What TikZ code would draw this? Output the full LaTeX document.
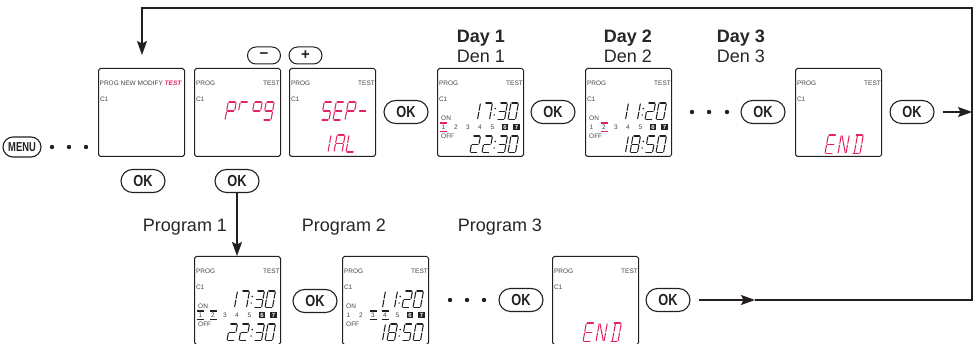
\documentclass[tikz,border=0pt]{standalone}
\usepackage{fontspec}
\setmainfont{Liberation Sans}
\usepackage{graphicx}
\usetikzlibrary{arrows.meta,shapes.misc}
\definecolor{ink}{HTML}{231F20}
\definecolor{lcdred}{HTML}{E2245C}
\definecolor{txt}{HTML}{262626}
\definecolor{stxt}{HTML}{444444}
\tikzset{
  screen/.style={draw=ink, line width=1pt, rounded corners=1.8pt, minimum width=86pt, minimum height=88pt, inner sep=0pt, anchor=north west},
  okbtn/.style={draw=ink, line width=1.1pt, rounded rectangle, minimum width=44pt, minimum height=23pt, inner sep=0pt, font=\fontsize{16}{16}\selectfont\bfseries, text=ink},
  pmbtn/.style={draw=ink, line width=1pt, rounded rectangle, minimum width=33pt, minimum height=17pt, inner sep=0pt, font=\fontsize{15}{15}\selectfont\bfseries, text=ink},
  small/.style={font=\fontsize{6.5}{7}\selectfont, inner sep=0pt, text=stxt},
  big/.style={font=\fontsize{18}{20}\selectfont, inner sep=0pt, text=txt, anchor=base},
  conn/.style={draw=ink, line width=1.7pt},
  arr/.style={draw=ink, line width=1.7pt, -{Stealth[length=14pt,width=10pt,inset=2.5pt]}},
  dot/.style={fill=ink},
}
% seven segment parts
\def\hh{17}\def\ww{7.5}
\newcommand\SgA{\draw[segline] (0.9,0) -- (\ww-0.9,0);}
\newcommand\SgB{\draw[segline] (\ww,0.9) -- (\ww,\hh/2-0.9);}
\newcommand\SgC{\draw[segline] (\ww,\hh/2+0.9) -- (\ww,\hh-0.9);}
\newcommand\SgD{\draw[segline] (0.9,\hh) -- (\ww-0.9,\hh);}
\newcommand\SgE{\draw[segline] (0,\hh/2+0.9) -- (0,\hh-0.9);}
\newcommand\SgF{\draw[segline] (0,0.9) -- (0,\hh/2-0.9);}
\newcommand\SgG{\draw[segline] (0.9,\hh/2) -- (\ww-0.9,\hh/2);}
\newcommand\SgX{\draw[segline] (0.9,0.9) -- (\ww-0.9,\hh-0.9);}
\newcommand\SgY{\draw[segline] (2.2,0.9) -- (2.2,\hh/2-0.9); \draw[segline] (2.2,\hh/2+0.9) -- (2.2,\hh-0.9);}
\newcommand\lcZero{\SgA\SgB\SgC\SgD\SgE\SgF}
\newcommand\lcOne{\SgB\SgC}
\newcommand\lcTwo{\SgA\SgB\SgG\SgE\SgD}
\newcommand\lcThree{\SgA\SgB\SgG\SgC\SgD}
\newcommand\lcFive{\SgA\SgF\SgG\SgC\SgD}
\newcommand\lcSeven{\SgA\SgB\SgC}
\newcommand\lcEight{\SgA\SgB\SgC\SgD\SgE\SgF\SgG}
\newcommand\lcP{\SgA\SgB\SgF\SgG\SgE}
\newcommand\lcR{\SgA\SgF}
\newcommand\lcO{\SgA\SgB\SgF\SgG}
\newcommand\lcG{\SgA\SgB\SgC\SgD\SgF\SgG}
\newcommand\lcS{\SgA\SgF\SgG\SgC\SgD}
\newcommand\lcE{\SgA\SgF\SgG\SgE\SgD}
\newcommand\lcDash{\SgG}
\newcommand\lcI{\SgB\SgC}
\newcommand\lcA{\SgA\SgB\SgC\SgE\SgF\SgG}
\newcommand\lcL{\SgF\SgE\SgD}
\newcommand\lcN{\SgF\SgE\SgB\SgC\SgX}
\newcommand\lcD{\SgA\SgB\SgC\SgD\SgY}
% #1 colour, #2 x, #3 y (top), #4 segments
\newcommand\lcdch[4][ink]{%
  \begin{scope}[shift={(#2+0.18*\hh,#3)},xslant=0.18,segline/.style={draw=#1,line width=1.05pt,line cap=round}]
  #4
  \end{scope}}
\newcommand\lcdcolon[2]{%
  \fill[ink] (#1+2.0,#2+5.5) circle (0.85);
  \fill[ink] (#1+0.8,#2+12) circle (0.85);}
% time display: #1 x0, #2 y0 (screen top-left), #3 row offset, #4..#7 digits
\newcommand\timedisp[7]{%
  \lcdch{#1+33}{#2+#3}{#4}\lcdch{#1+45}{#2+#3}{#5}%
  \lcdcolon{#1+56.3}{#2+#3}%
  \lcdch{#1+60}{#2+#3}{#6}\lcdch{#1+71}{#2+#3}{#7}}
% screen with header
\newcommand\scr[3]{%
  \node[screen] (#1) at (#2,#3) {};
  \node[small,anchor=west] (#1p) at ([shift={(1.8,15)}]#1.north west) {PROG};
  \node[small,anchor=east] (#1t) at ([shift={(-1,15)}]#1.north east) {TEST};
  \node[small,anchor=west] (#1c) at ([shift={(1.8,31)}]#1.north west) {C1};}
% day row: #1 name, #2 x0, #3 y0, #4 colour, #5 bar centres
\newcommand\dayrow[5]{%
  \node[small,anchor=west] (#1on) at (#2+4,#3+50) {ON};
  \node[small,anchor=west] (#1off) at (#2+4,#3+68) {OFF};
  \foreach \n/\cx in {1/6.5,2/19,3/31,4/43,5/55.5}
    \node[small] (#1d\n) at (#2+\cx,#3+59) {\n};
  \foreach \n/\cx in {6/68,7/79.5}
    \node[fill=ink,text=white,font=\fontsize{6}{6}\selectfont\bfseries,minimum width=6.5pt,minimum height=6pt,inner sep=0pt] (#1d\n) at (#2+\cx,#3+59) {\n};
  \foreach \cx in {#5}{
    \draw[#4,line width=1.3pt] (#2+\cx-3.5,#3+55) -- (#2+\cx+3.5,#3+55);
    \draw[#4,line width=1.3pt] (#2+\cx-3.5,#3+63.2) -- (#2+\cx+3.5,#3+63.2);}}
\begin{document}
\begin{tikzpicture}[x=1pt,y=-1pt]
\useasboundingbox (0,0) rectangle (979,344);
% ---------- MENU and dots
\node[draw=ink,line width=1.1pt,rounded rectangle,minimum width=38pt,minimum height=20pt,inner sep=0pt,text=ink,font=\fontsize{13}{13}\selectfont\bfseries] (menu) at (22,147) {\scalebox{0.72}[1]{MENU}};
\foreach \x in {52,69,86} \fill[dot] (\x,147) circle (2.2);
% ---------- screen 1
\node[screen] (s1) at (98,68) {};
\node[small,anchor=west] (s1p) at ([shift={(1.5,15)}]s1.north west) {PROG NEW MODIFY \textcolor{lcdred}{\bfseries\itshape TEST}};
\node[small,anchor=west] (s1c) at ([shift={(1.8,31)}]s1.north west) {C1};
% ---------- screen 2 : pr og
\scr{s2}{194}{68}
\def\hh{18}\def\ww{8}
\lcdch[lcdred]{194+31}{68+34}{\lcP}
\lcdch[lcdred]{194+43}{68+34}{\lcR}
\lcdch[lcdred]{194+57}{68+34}{\lcO}
\lcdch[lcdred]{194+69}{68+34}{\lcG}
% ---------- screen 3 : SEP- IAL
\scr{s3}{289}{68}
\lcdch[lcdred]{289+32}{68+34}{\lcS}
\lcdch[lcdred]{289+44}{68+34}{\lcE}
\lcdch[lcdred]{289+56}{68+34}{\lcP}
\lcdch[lcdred]{289+68}{68+34}{\lcDash}
\def\hh{17}
\lcdch[lcdred]{289+31}{68+67}{\lcI}
\lcdch[lcdred]{289+45}{68+67}{\lcA}
\lcdch[lcdred]{289+57}{68+67}{\lcL}
% minus / plus
\node[pmbtn] (minus) at (264,55.5) {−};
\node[pmbtn] (plus) at (305.5,55.5) {+};
% ---------- screen 4 : Day 1
\scr{s4}{437}{68}
\def\hh{16.5}\def\ww{7.5}
\timedisp{437}{68}{35}{\lcOne}{\lcSeven}{\lcThree}{\lcZero}
\timedisp{437}{68}{68}{\lcTwo}{\lcTwo}{\lcThree}{\lcZero}
\dayrow{s4}{437}{68}{lcdred}{6.5}
\node[big,font=\fontsize{18}{20}\selectfont\bfseries] (day1) at (481,43) {Day 1};
\node[big] (den1) at (481,63) {Den 1};
% ---------- screen 5 : Day 2
\scr{s5}{585}{68}
\timedisp{585}{68}{35}{\lcOne}{\lcOne}{\lcTwo}{\lcZero}
\timedisp{585}{68}{68}{\lcOne}{\lcEight}{\lcFive}{\lcZero}
\dayrow{s5}{585}{68}{lcdred}{19}
\node[big,font=\fontsize{18}{20}\selectfont\bfseries] (day2) at (628,43) {Day 2};
\node[big] (den2) at (628,63) {Den 2};
\node[big,font=\fontsize{18}{20}\selectfont\bfseries] (day3) at (741,43) {Day 3};
\node[big] (den3) at (741,63) {Den 3};
\foreach \x in {692,709,727} \fill[dot] (\x,112) circle (2.2);
% ---------- screen 6 : END
\scr{s6}{795}{68}
\def\hh{18.5}\def\ww{8}
\lcdch[lcdred]{795+30}{68+67}{\lcE}
\lcdch[lcdred]{795+43}{68+67}{\lcN}
\lcdch[lcdred]{795+57}{68+67}{\lcD}
% ---------- OK buttons top row
\node[okbtn] (oka) at (406,112) {\scalebox{0.8}[1]{OK}};
\node[okbtn] (okb) at (553,112) {\scalebox{0.8}[1]{OK}};
\node[okbtn] (okc) at (763,112) {\scalebox{0.8}[1]{OK}};
\node[okbtn] (okd) at (912,112) {\scalebox{0.8}[1]{OK}};
\node[okbtn] (ok1) at (143,181) {\scalebox{0.8}[1]{OK}};
\node[okbtn] (ok2) at (237,181) {\scalebox{0.8}[1]{OK}};
% ---------- program labels
\node[big] (pg1) at (185,232) {Program 1};
\node[big] (pg2) at (344,232) {Program 2};
\node[big] (pg3) at (500,232) {Program 3};
% ---------- bottom screens
\scr{b1}{194}{256}
\def\hh{16.5}\def\ww{7.5}
\timedisp{194}{256}{35}{\lcOne}{\lcSeven}{\lcThree}{\lcZero}
\timedisp{194}{256}{68}{\lcTwo}{\lcTwo}{\lcThree}{\lcZero}
\dayrow{b1}{194}{256}{ink}{6.5,19}
\scr{b2}{342}{256}
\timedisp{342}{256}{35}{\lcOne}{\lcOne}{\lcTwo}{\lcZero}
\timedisp{342}{256}{68}{\lcOne}{\lcEight}{\lcFive}{\lcZero}
\dayrow{b2}{342}{256}{ink}{31,43}
\scr{b3}{552}{256}
\def\hh{18.5}\def\ww{8}
\lcdch[lcdred]{552+31}{256+67}{\lcE}
\lcdch[lcdred]{552+44}{256+67}{\lcN}
\lcdch[lcdred]{552+58}{256+67}{\lcD}
\node[okbtn] (oke) at (315,301) {\scalebox{0.8}[1]{OK}};
\foreach \x in {450,467,484} \fill[dot] (\x,300) circle (2.2);
\node[okbtn] (okf) at (521,300) {\scalebox{0.8}[1]{OK}};
\node[okbtn] (okg) at (668,300) {\scalebox{0.8}[1]{OK}};
% ---------- connectors
\coordinate (jb) at (755,300);
\coordinate (cr1) at (972,300);
\coordinate (cr2) at (972,8);
\coordinate (cr3) at (142,8);
\coordinate (jt) at (142,55);
\coordinate (jr) at (972,112);
\draw[arr] ([xshift=8pt]okg.east) -- (jb);
\draw[conn,line join=miter] (jb) -- (cr1) -- (cr2) -- (cr3) -- ([yshift=0.85pt]cr3);
\draw[arr] ([yshift=-0.85pt]cr3) -- (jt);
\draw[arr] ([xshift=8pt]okd.east) -- (jr);
\draw[arr] (ok2.south) -- (ok2 |- b1.north);
\end{tikzpicture}
\end{document}
